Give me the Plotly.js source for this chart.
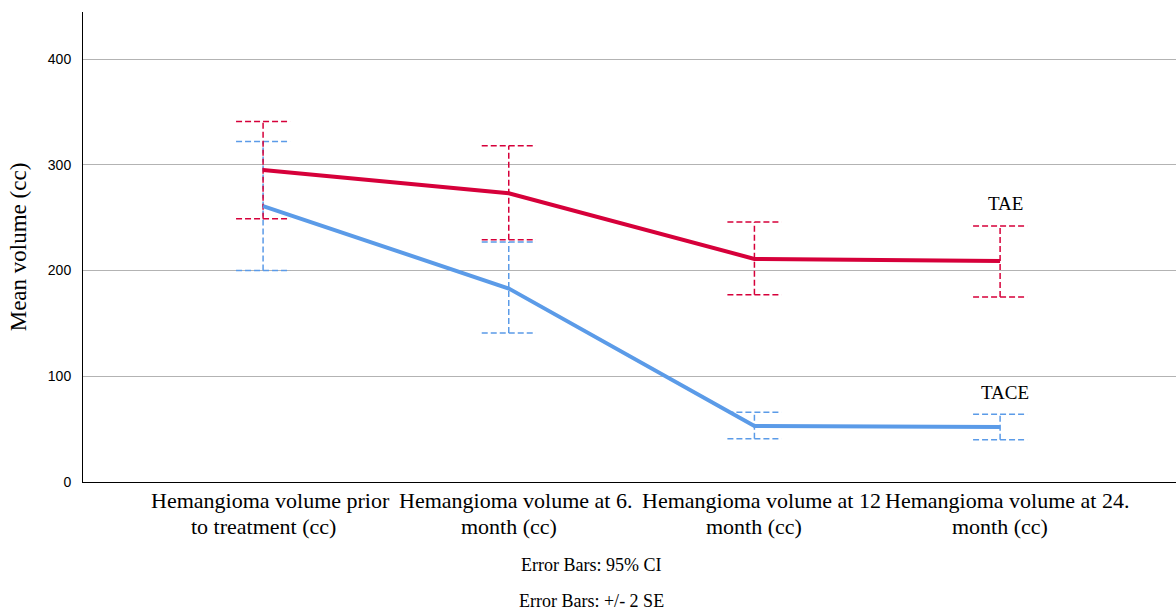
<!DOCTYPE html>
<html>
<head>
<meta charset="utf-8">
<script src="https://cdn.plot.ly/plotly-3.0.1.min.js"></script>
<style>html,body{margin:0;padding:0;background:#fff;}#chart{width:1176px;height:612px;}</style>
</head>
<body>
<div id="chart"></div>
<script>
const categories = [
  ["Hemangioma volume prior", "to treatment (cc)"],
  ["Hemangioma volume at 6.", "month (cc)"],
  ["Hemangioma volume at 12", "month (cc)"],
  ["Hemangioma volume at 24.", "month (cc)"]
];
const taeMean  = [295, 273, 211, 209];
const taeLow   = [249, 229, 177, 175];
const taeHigh  = [341, 318, 246, 242];
const taceMean = [261, 183, 53, 52];
const taceLow  = [200, 141, 41, 40];
const taceHigh = [322, 227, 66, 64];
const seriesNames = ["TAE", "TACE"];
const footerTexts = ["Error Bars: 95% CI", "Error Bars: +/- 2 SE"];

const RED = "#d6003a";
const BLUE = "#5b9be8";
const xIdx = categories.map((c, i) => i);
const CAP = 0.11;

function errTrace(lo, hi, color) {
  const xs = [], ys = [];
  xIdx.forEach(i => {
    xs.push(i, i, null, i - CAP, i + CAP, null, i - CAP, i + CAP, null);
    ys.push(lo[i], hi[i], null, hi[i], hi[i], null, lo[i], lo[i], null);
  });
  return {x: xs, y: ys, mode: "lines", type: "scatter", hoverinfo: "skip",
    line: {color: color, width: 1.5, dash: "6px,3px"}, showlegend: false};
}

const traces = [
  errTrace(taceLow, taceHigh, BLUE),
  errTrace(taeLow, taeHigh, RED),
  {x: xIdx, y: taceMean, mode: "lines", type: "scatter", name: seriesNames[1],
   line: {color: BLUE, width: 4}, showlegend: false},
  {x: xIdx, y: taeMean, mode: "lines", type: "scatter", name: seriesNames[0],
   line: {color: RED, width: 4}, showlegend: false}
];

const last = categories.length - 1;
const serif = "Liberation Serif, Times New Roman, serif";
const annotations = [
  {x: last + 0.02, y: taeHigh[last] + 21, xref: "x", yref: "y", text: seriesNames[0], showarrow: false,
   font: {family: serif, size: 19, color: "#000"}},
  {x: last + 0.02, y: taceHigh[last] + 21, xref: "x", yref: "y", text: seriesNames[1], showarrow: false,
   font: {family: serif, size: 19, color: "#000"}},
  {x: 0.465, y: -0.1766, xref: "paper", yref: "paper", yanchor: "middle", text: footerTexts[0], showarrow: false,
   font: {family: serif, size: 18, color: "#000"}},
  {x: 0.465, y: -0.2532, xref: "paper", yref: "paper", yanchor: "middle", text: footerTexts[1], showarrow: false,
   font: {family: serif, size: 18, color: "#000"}}
];
const lineY = [-0.0404, -0.0957];
const lineShift = [7, 0];
categories.forEach((lines, i) => {
  lines.forEach((t, j) => {
    annotations.push({x: i, y: lineY[j], xref: "x", yref: "paper", text: t, showarrow: false,
      xshift: lineShift[j], yanchor: "middle", font: {family: serif, size: 22, color: "#000"}});
  });
});

const layout = {
  width: 1176, height: 612,
  margin: {l: 83, r: 0, t: 12, b: 130},
  paper_bgcolor: "#fff", plot_bgcolor: "#fff",
  showlegend: false,
  xaxis: {
    range: [-0.733, 3.716],
    tickvals: xIdx, showticklabels: false,
    showgrid: false, zeroline: false,
    showline: true, linecolor: "#000", linewidth: 1,
    ticks: ""
  },
  yaxis: {
    range: [0, 444.5],
    tickvals: [0, 100, 200, 300, 400],
    showgrid: true, gridcolor: "#b3b3b3", gridwidth: 1,
    zeroline: false, showline: true, linecolor: "#000", linewidth: 1,
    ticks: "", ticklen: 0, ticklabelstandoff: 8,
    tickfont: {family: "Liberation Sans, Arial, sans-serif", size: 14, color: "#000"},
    title: {text: "Mean volume (cc)", font: {family: serif, size: 23, color: "#000"}, standoff: 14}
  },
  annotations: annotations
};

Plotly.newPlot("chart", traces, layout, {displayModeBar: false, staticPlot: true});
</script>
</body>
</html>
